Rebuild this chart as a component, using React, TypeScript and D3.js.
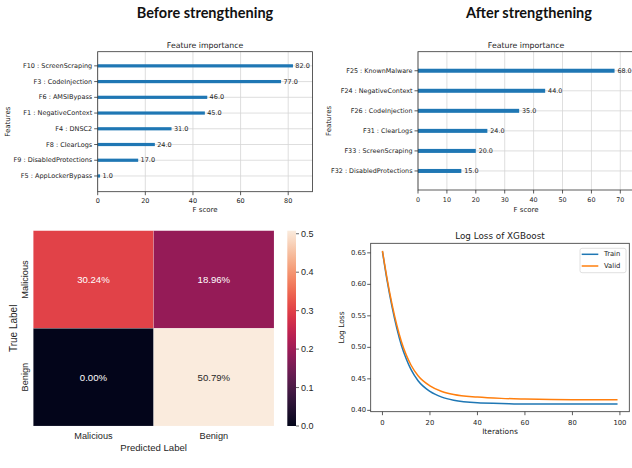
import React from "react";
import * as d3 from "d3";

// feature importance, before / after
const beforeFeatures = [
  "F10 : ScreenScraping",
  "F3 : CodeInjection",
  "F6 : AMSIBypass",
  "F1 : NegativeContext",
  "F4 : DNSC2",
  "F8 : ClearLogs",
  "F9 : DisabledProtections",
  "F5 : AppLockerBypass",
];
const beforeScores = [82, 77, 46, 45, 31, 24, 17, 1];
const beforeTicks = [0, 20, 40, 60, 80];

const afterFeatures = [
  "F25 : KnownMalware",
  "F24 : NegativeContext",
  "F26 : CodeInjection",
  "F31 : ClearLogs",
  "F33 : ScreenScraping",
  "F32 : DisabledProtections",
];
const afterScores = [68, 44, 35, 24, 20, 15];
const afterTicks = [0, 10, 20, 30, 40, 50, 60, 70];

// confusion matrix
const cmLabels = ["Malicious", "Benign"];
const cmValues = [
  [0.3024, 0.1896],
  [0.0, 0.5079],
];
const cbTicks = [0, 0.1, 0.2, 0.3, 0.4, 0.5];

// log loss curves
const iterations = [0, 2, 4, 6, 8, 10, 12, 15, 20, 25, 30, 40, 50, 60, 80, 99];
const trainLoss = [0.652, 0.605, 0.565, 0.531, 0.503, 0.482, 0.465, 0.447, 0.43, 0.421, 0.416, 0.412, 0.411, 0.41, 0.41, 0.41];
const validLoss = [0.653, 0.608, 0.569, 0.536, 0.509, 0.488, 0.472, 0.455, 0.439, 0.43, 0.425, 0.421, 0.419, 0.418, 0.417, 0.417];
const lossTicksY = [0.4, 0.45, 0.5, 0.55, 0.6, 0.65];
const lossTicksX = [0, 20, 40, 60, 80, 100];

const rocketStops = ["#03051a", "#35193e", "#701f57", "#ad1759", "#e13342", "#f37651", "#f6b48f", "#faebdd"];
const rocket = d3.interpolateRgbBasis(rocketStops);

const MPL = "DejaVu Sans";
const SNS = "Liberation Sans";
const INK = "#222";

function Importance({ names, scores, ticks, left, right, top, bottom, ylim, barH, fs, title, titleX }) {
  const n = names.length;
  const xMax = d3.max(scores) * 1.1;
  const x = d3.scaleLinear().domain([0, xMax]).range([left, right]);
  const y = d3.scaleLinear().domain(ylim).range([bottom, top]);
  const pos = (i) => y(n - 1 - i);
  const cx = (left + right) / 2;
  return (
    <g>
      <text x={titleX} y={18} textAnchor="middle" fontFamily="Lato" fontWeight="bold" fontSize={14.5} fill="#111">{title}</text>
      <text x={cx} y={48} textAnchor="middle" fontFamily={MPL} fontSize={7.8} fill={INK}>Feature importance</text>
      {ticks.map((t) => (
        <line key={"gx" + t} x1={x(t)} x2={x(t)} y1={top} y2={bottom} stroke="#d6d6d6" strokeWidth={0.8} />
      ))}
      {names.map((d, i) => (
        <line key={"gy" + i} x1={left} x2={right} y1={pos(i)} y2={pos(i)} stroke="#d6d6d6" strokeWidth={0.8} />
      ))}
      {scores.map((s, i) => (
        <rect key={"b" + i} x={x(0)} y={pos(i) - barH / 2} width={x(s) - x(0)} height={barH} fill="#1f77b4" />
      ))}
      {scores.map((s, i) => (
        <text key={"v" + i} x={x(s + 1)} y={pos(i)} dominantBaseline="central" fontFamily={MPL} fontSize={fs} fill={INK}>
          {s.toFixed(1)}
        </text>
      ))}
      <rect x={left} y={top} width={right - left} height={bottom - top} fill="none" stroke="#333" strokeWidth={0.8} />
      {names.map((d, i) => (
        <g key={"yl" + i}>
          <line x1={left - 3.5} x2={left} y1={pos(i)} y2={pos(i)} stroke="#333" strokeWidth={0.8} />
          <text x={left - 5.5} y={pos(i)} textAnchor="end" dominantBaseline="central" fontFamily={MPL} fontSize={fs} fill={INK}>
            {d}
          </text>
        </g>
      ))}
      {ticks.map((t) => (
        <g key={"xl" + t}>
          <line x1={x(t)} x2={x(t)} y1={bottom} y2={bottom + 3.5} stroke="#333" strokeWidth={0.8} />
          <text x={x(t)} y={bottom + 11.5} textAnchor="middle" fontFamily={MPL} fontSize={fs} fill={INK}>{t}</text>
        </g>
      ))}
      <text x={cx} y={211.5} textAnchor="middle" fontFamily={MPL} fontSize={7} fill={INK}>F score</text>
      <text transform={`translate(${left - 87.5},${(top + bottom) / 2}) rotate(-90)`} textAnchor="middle" fontFamily={MPL} fontSize={7} fill={INK}>
        Features
      </text>
    </g>
  );
}

function Heatmap() {
  const left = 33.3, right = 274, top = 230.7, bottom = 426;
  const x = d3.scaleBand().domain(cmLabels).range([left, right]);
  const y = d3.scaleBand().domain(cmLabels).range([top, bottom]);
  const vmax = d3.max(cmValues.flat());
  const c = d3.scaleLinear().domain([0, vmax]).range([0, 1]);
  const cb = d3.scaleLinear().domain([0, vmax]).range([bottom, top]);
  const cbL = 287.3, cbW = 8.7;
  return (
    <g>
      <defs>
        <linearGradient id="rocketGrad" x1="0" y1="1" x2="0" y2="0">
          {d3.range(0, 1.0001, 0.05).map((t) => (
            <stop key={t} offset={t} stopColor={rocket(t)} />
          ))}
        </linearGradient>
      </defs>
      {cmValues.map((row, i) =>
        row.map((v, j) => (
          <g key={i + "-" + j}>
            <rect x={x(cmLabels[j])} y={y(cmLabels[i])} width={x.bandwidth()} height={y.bandwidth()} fill={rocket(c(v))} stroke="rgba(255,255,255,0.25)" strokeWidth={0.6} />
            <text
              x={x(cmLabels[j]) + x.bandwidth() / 2}
              y={y(cmLabels[i]) + y.bandwidth() / 2}
              textAnchor="middle"
              dominantBaseline="central"
              fontFamily={SNS}
              fontSize={9.6}
              fill={c(v) > 0.7 ? "#262626" : "#ffffff"}
            >
              {(v * 100).toFixed(2) + "%"}
            </text>
          </g>
        ))
      )}
      {cmLabels.map((l) => (
        <text key={"r" + l} transform={`translate(28.3,${y(l) + y.bandwidth() / 2}) rotate(-90)`} textAnchor="middle" fontFamily={SNS} fontSize={9.2} fill="#262626">
          {l}
        </text>
      ))}
      {cmLabels.map((l) => (
        <text key={"c" + l} x={x(l) + x.bandwidth() / 2} y={438.5} textAnchor="middle" fontFamily={SNS} fontSize={9.2} fill="#262626">
          {l}
        </text>
      ))}
      <text transform={`translate(16.6,${(top + bottom) / 2}) rotate(-90)`} textAnchor="middle" fontFamily={SNS} fontSize={10} fill="#262626">
        True Label
      </text>
      <text x={(left + right) / 2} y={450.5} textAnchor="middle" fontFamily={SNS} fontSize={9.6} fill="#262626">
        Predicted Label
      </text>
      <rect x={cbL} y={top} width={cbW} height={bottom - top} fill="url(#rocketGrad)" />
      {cbTicks.map((t) => (
        <g key={"cb" + t}>
          <line x1={cbL + cbW} x2={cbL + cbW + 3} y1={cb(t)} y2={cb(t)} stroke="#262626" strokeWidth={0.7} />
          <text x={cbL + cbW + 5} y={cb(t)} dominantBaseline="central" fontFamily={SNS} fontSize={9} fill="#262626">
            {t.toFixed(1)}
          </text>
        </g>
      ))}
    </g>
  );
}

function LossChart() {
  const left = 370.7, right = 629.3, top = 243.3, bottom = 411.7;
  const all = trainLoss.concat(validLoss);
  const lo = d3.min(all), hi = d3.max(all);
  const xr = d3.max(iterations);
  const x = d3.scaleLinear().domain([-0.05 * xr, xr * 1.05]).range([left, right]);
  const y = d3.scaleLinear().domain([lo - (hi - lo) * 0.05, hi + (hi - lo) * 0.05]).range([bottom, top]);
  const line = (vals) =>
    d3.line().x((d, i) => x(iterations[i])).y((d) => y(d)).curve(d3.curveMonotoneX)(vals);
  return (
    <g>
      <text x={(left + right) / 2} y={239} textAnchor="middle" fontFamily={MPL} fontSize={8.8} fill={INK}>Log Loss of XGBoost</text>
      <path d={line(trainLoss)} fill="none" stroke="#1f77b4" strokeWidth={1.5} />
      <path d={line(validLoss)} fill="none" stroke="#ff7f0e" strokeWidth={1.5} />
      <rect x={left} y={top} width={right - left} height={bottom - top} fill="none" stroke="#333" strokeWidth={0.8} />
      {lossTicksY.map((t) => (
        <g key={"ly" + t}>
          <line x1={left - 3.5} x2={left} y1={y(t)} y2={y(t)} stroke="#333" strokeWidth={0.8} />
          <text x={left - 4.5} y={y(t)} textAnchor="end" dominantBaseline="central" fontFamily={MPL} fontSize={6.8} fill={INK}>
            {t.toFixed(2)}
          </text>
        </g>
      ))}
      {lossTicksX.map((t) => (
        <g key={"lx" + t}>
          <line x1={x(t)} x2={x(t)} y1={bottom} y2={bottom + 3.5} stroke="#333" strokeWidth={0.8} />
          <text x={x(t)} y={425} textAnchor="middle" fontFamily={MPL} fontSize={6.8} fill={INK}>{t}</text>
        </g>
      ))}
      <text x={(left + right) / 2} y={434} textAnchor="middle" fontFamily={MPL} fontSize={7.5} fill={INK}>Iterations</text>
      <text transform={`translate(344,${(top + bottom) / 2}) rotate(-90)`} textAnchor="middle" fontFamily={MPL} fontSize={7.5} fill={INK}>
        Log Loss
      </text>
      <rect x={580} y={248.3} width={46} height={24.4} rx={2} fill="#fff" stroke="#d8d8d8" strokeWidth={0.8} />
      <line x1={581.7} x2={598.3} y1={254.3} y2={254.3} stroke="#1f77b4" strokeWidth={1.5} />
      <line x1={581.7} x2={598.3} y1={266} y2={266} stroke="#ff7f0e" strokeWidth={1.5} />
      <text x={604} y={254.3} dominantBaseline="central" fontFamily={MPL} fontSize={6.8} fill={INK}>Train</text>
      <text x={604} y={266} dominantBaseline="central" fontFamily={MPL} fontSize={6.8} fill={INK}>Valid</text>
    </g>
  );
}

export default function App() {
  return (
    <svg width={632} height={468} style={{ position: "absolute", left: 0, top: 0, background: "#fff" }}>
      <rect width={632} height={468} fill="#fff" />
      <Importance
        names={beforeFeatures}
        scores={beforeScores}
        ticks={beforeTicks}
        left={97.7}
        right={312.5}
        top={51.7}
        bottom={191.7}
        ylim={[-1, 7.9]}
        barH={3.2}
        fs={6.5}
        title="Before strengthening"
        titleX={205}
      />
      <Importance
        names={afterFeatures}
        scores={afterScores}
        ticks={afterTicks}
        left={418}
        right={634.2}
        top={51.7}
        bottom={190}
        ylim={[-0.95, 5.95]}
        barH={4}
        fs={6.4}
        title="After strengthening"
        titleX={529}
      />
      <Heatmap />
      <LossChart />
    </svg>
  );
}
